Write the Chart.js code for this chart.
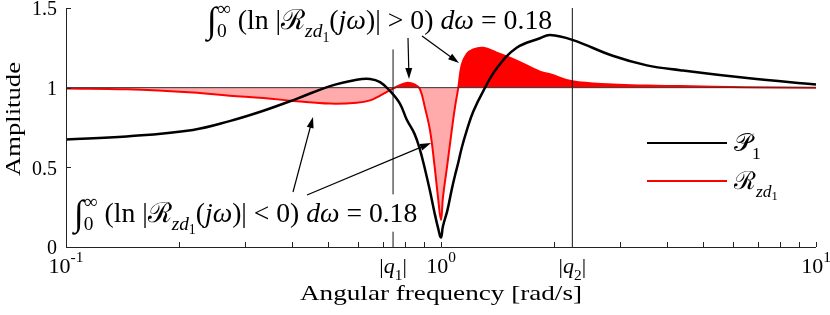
<!DOCTYPE html>
<html lang="en">
<head>
<meta charset="UTF-8">
<title>Amplitude</title>
<script src="https://cdn.jsdelivr.net/npm/chart.js"></script>
<style>
  body { margin: 0; background: #fff; }
  #wrap { width: 830px; height: 315px; }
</style>
</head>
<body>
<div id="wrap"><canvas id="ampChart" width="830" height="315"></canvas></div>
<script>
// angular frequency [rad/s]
const freq = [0.1, 0.145, 0.218, 0.273, 0.336, 0.412, 0.506, 0.596, 0.647, 0.688,
              0.731, 0.777, 0.81, 0.85, 0.879, 0.906, 0.935, 0.96, 0.982, 1.0,
              1.012, 1.04, 1.068, 1.09, 1.112, 1.135, 1.171, 1.219, 1.297, 1.407,
              1.591, 1.836, 1.953, 2.24, 2.87, 3.54, 4.34, 6.55, 10];
// |P1(jw)|
const p1Amp = [0.675, 0.694, 0.735, 0.79, 0.855, 0.93, 1.01, 1.05, 1.055, 1.035,
               0.98, 0.90, 0.80, 0.71, 0.61, 0.49, 0.35, 0.22, 0.12, 0.06,
               0.13, 0.23, 0.36, 0.45, 0.53, 0.62, 0.73, 0.85, 0.98, 1.12,
               1.25, 1.31, 1.33, 1.30, 1.20, 1.14, 1.11, 1.06, 1.02];
// |Rzd1(jw)|
const rAmp = [0.995, 0.99, 0.97, 0.95, 0.935, 0.915, 0.90, 0.905, 0.92, 0.95,
              0.985, 1.015, 1.03, 1.02, 0.99, 0.875, 0.73, 0.52, 0.31, 0.17,
              0.31, 0.52, 0.73, 0.88, 1.0, 1.14, 1.21, 1.24, 1.25, 1.22,
              1.17, 1.10, 1.085, 1.04, 1.02, 1.013, 1.01, 1.003, 1.0];

const q1 = 0.745;
const q2 = 2.24;
const q1LineTop = 1.24;
const yTicks = [0, 0.5, 1, 1.5];
const yTickLabels = ['0', '0.5', '1', '1.5'];
const xMinorTicks = [0.2, 0.3, 0.4, 0.5, 0.6, 0.7, 0.8, 0.9, 2, 3, 4, 5, 6, 7, 8, 9];

const SERIF = '"Liberation Serif", "DejaVu Serif", serif';

const toXY = (ys) => freq.map((f, i) => ({ x: f, y: ys[i] }));

// small rich-text helper for the math-ish labels
function mathText(ctx, segs, x, y, size, draw) {
    let cx = x;
    segs.forEach(([t, k]) => {
        let fs = size, dy = 0, style = '';
        if (k === 'i') style = 'italic ';
        if (k === 'int') { fs = size * 1.3; dy = size * 0.1; }
        if (k === 'sub' || k === 'subn') { fs = size * 0.7; dy = size * 0.3; }
        if (k === 'isub') { style = 'italic '; fs = size * 0.7; dy = size * 0.3; }
        if (k === 'sup') { fs = size * 0.7; dy = -size * 0.5; }
        if (k === 'ss') { fs = size * 0.5; dy = size * 0.45; }
        ctx.font = style + fs + 'px ' + SERIF;
        const w = ctx.measureText(t).width;
        if (draw) ctx.fillText(t, cx, y + dy);
        if (k !== 'subn') cx += w;
    });
    return cx - x;
}

function fitText(ctx, segs, x, y, width, bg) {
    const w0 = mathText(ctx, segs, 0, 0, 20, false);
    const size = 20 * width / w0;
    if (bg) {
        ctx.fillStyle = '#fff';
        ctx.fillRect(x - 2, y - size * 1.0, width + 4, size * 1.35);
    }
    ctx.fillStyle = '#000';
    mathText(ctx, segs, x, y, size, true);
}

// plain text stretched sideways to a given width (the original font is wider)
function stretchText(ctx, text, cx, y, size, width) {
    ctx.font = size + 'px ' + SERIF;
    const w = ctx.measureText(text).width;
    ctx.save();
    ctx.translate(cx, y);
    ctx.scale(width / w, 1);
    ctx.textAlign = 'center';
    ctx.fillText(text, 0, 0);
    ctx.restore();
}

function arrow(ctx, x1, y1, x2, y2) {
    const a = Math.atan2(y2 - y1, x2 - x1);
    const len = 11, hw = 3.5;
    ctx.strokeStyle = '#000';
    ctx.lineWidth = 1.2;
    ctx.beginPath();
    ctx.moveTo(x1, y1);
    ctx.lineTo(x2 - len * 0.8 * Math.cos(a), y2 - len * 0.8 * Math.sin(a));
    ctx.stroke();
    ctx.fillStyle = '#000';
    ctx.beginPath();
    ctx.moveTo(x2, y2);
    ctx.lineTo(x2 - len * Math.cos(a) + hw * Math.sin(a), y2 - len * Math.sin(a) - hw * Math.cos(a));
    ctx.lineTo(x2 - len * Math.cos(a) - hw * Math.sin(a), y2 - len * Math.sin(a) + hw * Math.cos(a));
    ctx.closePath();
    ctx.fill();
}

const integralPos = [['∫', 'int'], ['0', 'subn'], ['∞', 'sup'], [' (ln |', 'r'], ['ℛ', 'r'], ['zd', 'isub'], ['1', 'ss'],
    ['(', 'r'], ['jω', 'i'], [')| > 0) ', 'r'], ['dω', 'i'], [' = 0.18', 'r']];
const integralNeg = [['∫', 'int'], ['0', 'subn'], ['∞', 'sup'], [' (ln |', 'r'], ['ℛ', 'r'], ['zd', 'isub'], ['1', 'ss'],
    ['(', 'r'], ['jω', 'i'], [')| < 0) ', 'r'], ['dω', 'i'], [' = 0.18', 'r']];

const axesPlugin = {
    id: 'axesPlugin',
    afterDatasetsDraw(chart) {
        const ctx = chart.ctx;
        const xs = chart.scales.x, ys = chart.scales.y;
        const area = chart.chartArea;
        ctx.save();

        // axis lines
        ctx.strokeStyle = '#222';
        ctx.lineWidth = 1;
        ctx.beginPath();
        ctx.moveTo(area.left + 0.5, area.top);
        ctx.lineTo(area.left + 0.5, area.bottom + 0.5);
        ctx.lineTo(area.right, area.bottom + 0.5);
        ctx.stroke();

        // inward ticks
        ctx.beginPath();
        yTicks.forEach(v => {
            const py = Math.round(ys.getPixelForValue(v)) + 0.5;
            ctx.moveTo(area.left, py);
            ctx.lineTo(area.left + 5, py);
        });
        xMinorTicks.concat([0.1, 1, 10]).forEach(v => {
            const px = Math.round(xs.getPixelForValue(v)) + 0.5;
            ctx.moveTo(px, area.bottom);
            ctx.lineTo(px, area.bottom - 5);
        });
        ctx.stroke();

        // y tick labels
        ctx.fillStyle = '#000';
        ctx.font = '20px ' + SERIF;
        ctx.textAlign = 'right';
        ctx.textBaseline = 'middle';
        yTicks.forEach((v, i) => {
            ctx.fillText(yTickLabels[i], area.left - 9, ys.getPixelForValue(v) + 2);
        });

        // x tick labels
        ctx.textAlign = 'left';
        ctx.textBaseline = 'alphabetic';
        const xLabels = [
            [0.1, [['10', 'r'], ['-1', 'sup']]],
            [q1, [['|', 'r'], ['q', 'i'], ['1', 'sub'], ['|', 'r']]],
            [1, [['10', 'r'], ['0', 'sup']]],
            [q2, [['|', 'r'], ['q', 'i'], ['2', 'sub'], ['|', 'r']]],
            [10, [['10', 'r'], ['1', 'sup']]]
        ];
        const lblY = area.bottom + 26;
        xLabels.forEach(([v, segs]) => {
            const w = mathText(ctx, segs, 0, 0, 22, false);
            mathText(ctx, segs, xs.getPixelForValue(v) - w / 2, lblY, 22, true);
        });

        // axis titles
        stretchText(ctx, 'Angular frequency [rad/s]', (area.left + area.right) / 2, 300, 21, 282);
        ctx.save();
        ctx.translate(20, 119);
        ctx.rotate(-Math.PI / 2);
        stretchText(ctx, 'Amplitude', 0, 0, 21, 114);
        ctx.restore();
        ctx.textAlign = 'left';

        // legend
        const legend = [
            ['#000', 143, [['𝒫', 'r'], ['1', 'sub']]],
            ['#ff0000', 181, [['ℛ', 'r'], ['zd', 'isub'], ['1', 'ss']]]
        ];
        legend.forEach(([col, ly, segs]) => {
            ctx.strokeStyle = col;
            ctx.lineWidth = 2;
            ctx.beginPath();
            ctx.moveTo(647, ly);
            ctx.lineTo(727, ly);
            ctx.stroke();
            ctx.fillStyle = '#000';
            mathText(ctx, segs, 734, ly + 8, 25, true);
        });

        // annotations
        fitText(ctx, integralPos, 207, 29, 345, false);
        fitText(ctx, integralNeg, 74, 222, 343, true);
        arrow(ctx, 408, 38, 409, 79);
        arrow(ctx, 422, 36, 459, 63);
        arrow(ctx, 293, 192, 313, 117);
        arrow(ctx, 307, 195, 431, 143);

        ctx.restore();
    }
};

new Chart(document.getElementById('ampChart'), {
    type: 'line',
    data: {
        datasets: [
            {
                label: 'P1',
                data: toXY(p1Amp),
                borderColor: '#000',
                borderWidth: 2.5,
                pointRadius: 0,
                tension: 0.4,
                fill: false,
                order: 0
            },
            {
                label: 'unity',
                data: [{ x: 0.1, y: 1 }, { x: 10, y: 1 }],
                borderColor: '#333',
                borderWidth: 1,
                pointRadius: 0,
                fill: false,
                order: 1
            },
            {
                label: 'q1',
                data: [{ x: q1, y: 0 }, { x: q1, y: q1LineTop }],
                borderColor: '#111',
                borderWidth: 1,
                pointRadius: 0,
                fill: false,
                order: 1
            },
            {
                label: 'q2',
                data: [{ x: q2, y: 0 }, { x: q2, y: 1.5 }],
                borderColor: '#111',
                borderWidth: 1,
                pointRadius: 0,
                fill: false,
                order: 1
            },
            {
                label: 'Rzd1',
                data: toXY(rAmp),
                borderColor: '#ff0000',
                borderWidth: 2,
                pointRadius: 0,
                tension: 0.4,
                fill: { target: { value: 1 }, above: '#ff0000', below: 'rgba(255, 0, 0, 0.33)' },
                order: 2
            }
        ]
    },
    options: {
        responsive: false,
        animation: false,
        devicePixelRatio: 1,
        events: [],
        layout: { padding: { left: 66, right: 14, top: 8, bottom: 68 } },
        plugins: { legend: { display: false }, tooltip: { enabled: false } },
        scales: {
            x: { type: 'logarithmic', min: 0.1, max: 10, display: false },
            y: { type: 'linear', min: 0, max: 1.5, display: false }
        }
    },
    plugins: [axesPlugin]
});
</script>
</body>
</html>
